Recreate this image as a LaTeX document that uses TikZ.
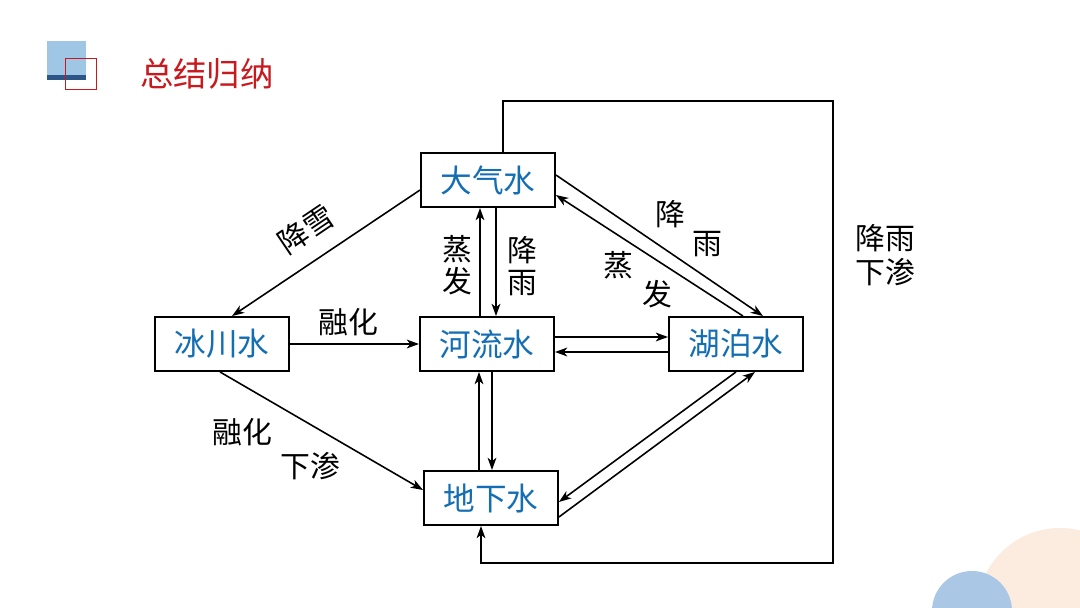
\documentclass[tikz,border=0pt]{standalone}
\usepackage{fontspec}
\setmainfont{Noto Sans CJK SC}
\usetikzlibrary{arrows.meta}
\usetikzlibrary{positioning}
\definecolor{boxblue}{RGB}{20,110,180}
\definecolor{titlered}{RGB}{200,25,30}
\definecolor{tagblue}{RGB}{160,198,230}
\definecolor{tagnavy}{RGB}{45,85,135}
\definecolor{peach}{RGB}{252,236,224}
\definecolor{softblue}{RGB}{170,200,230}
\tikzset{
  waterbox/.style={draw=black,line width=1.1pt,fill=white,minimum width=2.68cm,minimum height=1.08cm,inner sep=0pt,text=boxblue,font=\fontsize{18}{20}\selectfont},
  flow/.style={line width=0.9pt,-{Stealth[length=7pt,width=5pt,inset=2pt]}},
  lbl/.style={font=\fontsize{17}{18}\selectfont,align=center,inner sep=0pt}
}
\begin{document}
\begin{tikzpicture}[x=0.02cm,y=-0.02cm]
\useasboundingbox (0,0) rectangle (1080,608);
% decorations
\fill[peach] (1060,611) circle (83);
\fill[softblue] (972,611) circle (40);
\fill[tagblue] (47,41) rectangle (86,80);
\fill[tagnavy] (47,75) rectangle (86,80);
\draw[titlered,line width=0.5pt] (65,58) rectangle (96,89);
\node[text=titlered,font=\fontsize{19}{22}\selectfont,anchor=west] (title) at (134,74) {总结归纳};

% water stores
\node[waterbox] (dq) at (488,180) {大气水};
\node[waterbox] (rv) at (487,344) {河流水};
\node[waterbox] (hu) at (736,344) {湖泊水};
\node[waterbox] (bc) at (222,344) {冰川水};
\node[waterbox] (dx) at (491,498) {地下水};

% big loop
\coordinate (tr) at (833,101);
\coordinate (br) at (833,563);
\draw[flow] ([xshift=0.3cm]dq.north) |- (tr) -- (br) -| ([xshift=-0.2cm]dx.south);
\node[lbl,font=\fontsize{17}{19.5}\selectfont] (lbLoop) at (885,255) {降雨\\下渗};

% atmosphere - river
\draw[flow] ([xshift=-0.14cm]rv.north) -- ([xshift=-0.14cm]rv.north |- dq.south);
\draw[flow] ([xshift=0.18cm]rv.north |- dq.south) -- ([xshift=0.18cm]rv.north);
\node[lbl] (lbEvA) at (457,265) {蒸\\发};
\node[lbl] (lbRnA) at (522,266) {降\\雨};

% atmosphere - lake
\draw[flow] ([yshift=0.1cm]dq.east) -- ([xshift=0.54cm]hu.north);
\draw[flow] ([xshift=0.14cm]hu.north) -- ([yshift=-0.3cm]dq.east);
\node[lbl] (lbRnB1) at (670,214) {降};
\node[lbl] (lbRnB2) at (707,244) {雨};
\node[lbl] (lbEvB1) at (618,265) {蒸};
\node[lbl] (lbEvB2) at (657,294) {发};

% atmosphere - glacier
\draw[flow] ([yshift=-0.2cm]dq.west) -- ([xshift=0.2cm]bc.north);
\node[lbl,rotate=34] (lbSnow) at (306,229) {降雪};

% river - lake
\draw[flow] ([yshift=0.14cm]rv.east) -- ([yshift=0.14cm]rv.east -| hu.west);
\draw[flow] ([yshift=-0.16cm]rv.east -| hu.west) -- ([yshift=-0.16cm]rv.east);

% glacier
\draw[flow] (bc.east) -- (rv.west);
\node[lbl] (lbMelt) at (348,322) {融化};
\draw[flow] ([xshift=-0.04cm]bc.south) -- ([yshift=0.16cm]dx.west);
\node[lbl] (lbMeltB) at (242,432) {融化};
\node[lbl] (lbSeep) at (310,466) {下渗};

% river - ground
\draw[flow] ([xshift=-0.16cm]rv.south |- dx.north) -- ([xshift=-0.16cm]rv.south);
\draw[flow] ([xshift=0.1cm]rv.south) -- ([xshift=0.1cm]rv.south |- dx.north);

% lake - ground
\draw[flow] (hu.south) -- ([yshift=-0.08cm]dx.east);
\draw[flow] ([yshift=-0.38cm]dx.east) -- ([xshift=0.38cm]hu.south);
\end{tikzpicture}
\end{document}
